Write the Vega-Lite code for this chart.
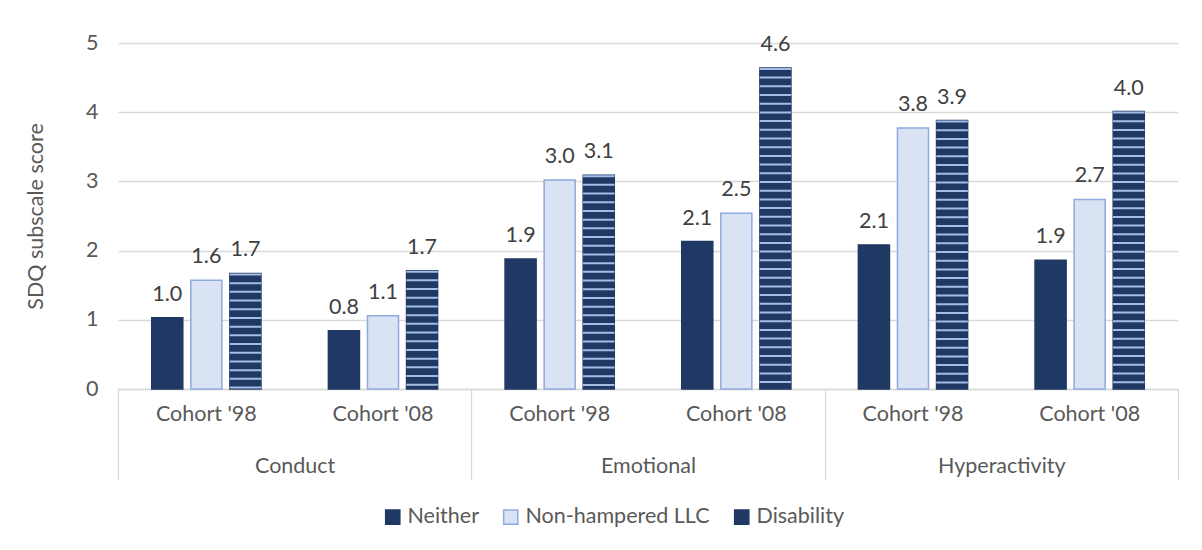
{
  "$schema": "https://vega.github.io/schema/vega-lite/v6.json",
  "width": 1060,
  "height": 346,
  "autosize": {"type": "none"},
  "padding": {"left": 118, "top": 43, "right": 24, "bottom": 161},
  "background": "white",
  "config": {"font": "Lato", "view": {"stroke": null}},
  "data": {"values": [
    {"category": "Conduct", "group": "Conduct|Cohort '98", "series": "Neither", "value": 1.03},
    {"category": "Conduct", "group": "Conduct|Cohort '98", "series": "Non-hampered LLC", "value": 1.57},
    {"category": "Conduct", "group": "Conduct|Cohort '98", "series": "Disability", "value": 1.67},
    {"category": "Conduct", "group": "Conduct|Cohort '08", "series": "Neither", "value": 0.84},
    {"category": "Conduct", "group": "Conduct|Cohort '08", "series": "Non-hampered LLC", "value": 1.06},
    {"category": "Conduct", "group": "Conduct|Cohort '08", "series": "Disability", "value": 1.71},
    {"category": "Emotional", "group": "Emotional|Cohort '98", "series": "Neither", "value": 1.88},
    {"category": "Emotional", "group": "Emotional|Cohort '98", "series": "Non-hampered LLC", "value": 3.02},
    {"category": "Emotional", "group": "Emotional|Cohort '98", "series": "Disability", "value": 3.09},
    {"category": "Emotional", "group": "Emotional|Cohort '08", "series": "Neither", "value": 2.13},
    {"category": "Emotional", "group": "Emotional|Cohort '08", "series": "Non-hampered LLC", "value": 2.54},
    {"category": "Emotional", "group": "Emotional|Cohort '08", "series": "Disability", "value": 4.64},
    {"category": "Hyperactivity", "group": "Hyperactivity|Cohort '98", "series": "Neither", "value": 2.08},
    {"category": "Hyperactivity", "group": "Hyperactivity|Cohort '98", "series": "Non-hampered LLC", "value": 3.77},
    {"category": "Hyperactivity", "group": "Hyperactivity|Cohort '98", "series": "Disability", "value": 3.88},
    {"category": "Hyperactivity", "group": "Hyperactivity|Cohort '08", "series": "Neither", "value": 1.86},
    {"category": "Hyperactivity", "group": "Hyperactivity|Cohort '08", "series": "Non-hampered LLC", "value": 2.74},
    {"category": "Hyperactivity", "group": "Hyperactivity|Cohort '08", "series": "Disability", "value": 4.01}
  ]},
  "layer": [
    {
      "encoding": {
        "x": {
          "field": "group", "type": "nominal",
          "scale": {"domain": ["Conduct|Cohort '98", "Conduct|Cohort '08", "Emotional|Cohort '98", "Emotional|Cohort '08", "Hyperactivity|Cohort '98", "Hyperactivity|Cohort '08"], "paddingInner": 0, "paddingOuter": 0},
          "axis": {"orient": "bottom", "title": null, "labelExpr": "split(datum.value, '|')[1]", "labelAngle": 0, "labelFontSize": 21.5, "labelColor": "#595959", "labelPadding": 14, "ticks": false, "domain": true, "domainColor": "#D9D9D9", "domainWidth": 1.3, "grid": false}
        },
        "xOffset": {
          "field": "series", "type": "nominal",
          "scale": {"domain": ["Neither", "Non-hampered LLC", "Disability"], "paddingInner": 0.205, "paddingOuter": 0.863}
        },
        "y": {
          "field": "value", "type": "quantitative",
          "scale": {"domain": [0, 5]},
          "axis": {"title": "SDQ subscale score", "titleFontSize": 21.5, "titleColor": "#595959", "titleFontWeight": "normal", "titlePadding": 38, "labelFontSize": 21.5, "labelColor": "#595959", "labelPadding": 20, "ticks": false, "domain": false, "gridColor": "#D9D9D9", "gridWidth": 1.3, "values": [0, 1, 2, 3, 4, 5]}
        }
      },
      "layer": [
        {
          "mark": {"type": "bar", "strokeWidth": 1.5},
          "encoding": {
            "fill": {
              "field": "series", "type": "nominal",
              "scale": {"domain": ["Neither", "Non-hampered LLC", "Disability"], "range": ["#1F3864", "#DAE3F3", "#1F3864"]},
              "legend": {"orient": "none", "legendX": 264, "legendY": 463, "direction": "horizontal", "columns": 3, "title": null, "symbolType": "square", "symbolSize": 200, "labelFontSize": 21.5, "labelColor": "#595959", "labelLimit": 400, "columnPadding": 21, "labelOffset": 4, "symbolStrokeWidth": 1.5}
            },
            "stroke": {
              "field": "series", "type": "nominal",
              "scale": {"domain": ["Neither", "Non-hampered LLC", "Disability"], "range": ["#1F3864", "#8FAADC", "#1F3864"]}
            }
          }
        },
        {
          "transform": [{"filter": "datum.series === 'Disability'"}],
          "mark": {"type": "rule", "strokeWidth": 31.5, "strokeDash": [2, 6.7], "color": "#A6BDE3"},
          "encoding": {"y2": {"datum": 0}}
        },
        {
          "mark": {"type": "text", "dy": -17, "fontSize": 21.5, "color": "#404040", "baseline": "alphabetic"},
          "encoding": {"text": {"field": "value", "type": "quantitative", "format": ".1f"}}
        }
      ]
    },
    {
      "mark": {"type": "point", "opacity": 0},
      "encoding": {
        "x": {
          "field": "category", "type": "nominal",
          "scale": {"type": "band", "domain": ["Conduct", "Emotional", "Hyperactivity"], "paddingInner": 0, "paddingOuter": 0},
          "axis": {"orient": "bottom", "title": null, "labelAngle": 0, "tickBand": "extent", "ticks": true, "tickSize": 91, "tickColor": "#D9D9D9", "tickWidth": 1.3, "domain": false, "grid": false, "labelPadding": -25, "labelFontSize": 21.5, "labelColor": "#595959"}
        }
      }
    }
  ],
  "resolve": {"scale": {"x": "independent"}, "axis": {"x": "independent"}}
}
